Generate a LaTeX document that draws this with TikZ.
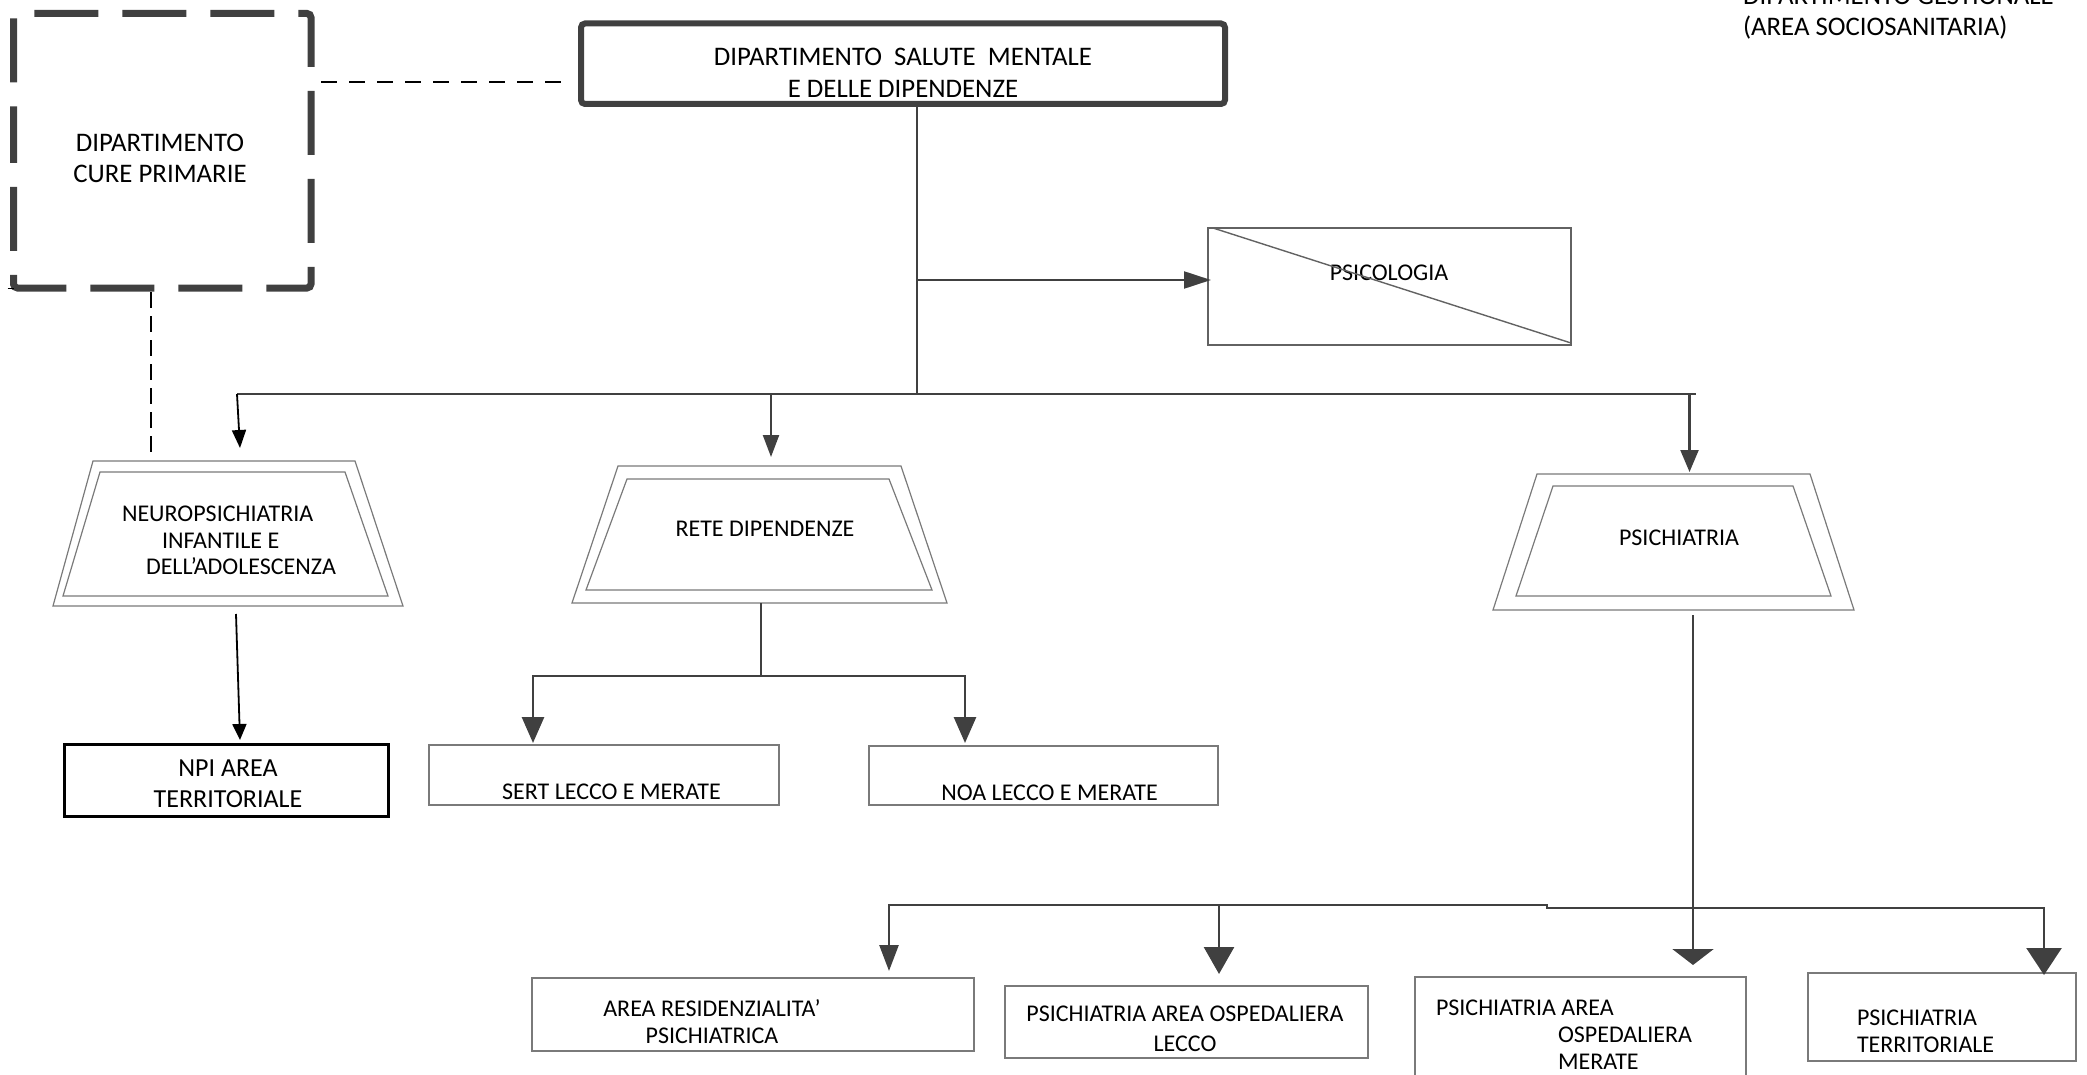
\documentclass[tikz,border=0pt]{standalone}
\usepackage{fontspec}
\setmainfont{Carlito}
\usetikzlibrary{arrows.meta,calc}
\definecolor{dk}{HTML}{404040}
\definecolor{gr}{HTML}{7A7A7A}
\begin{document}
\begin{tikzpicture}[x=0.5pt,y=-0.5pt,
  every node/.style={inner sep=0pt, outer sep=0pt, font=\fontsize{12}{13.5}\selectfont},
  hid/.style={rectangle, draw=none},
  lbox/.style={rectangle, draw=gr, line width=0.6pt},
  trapline/.style={draw=gr, line width=0.6pt, line join=miter},
  conn/.style={draw=dk, line width=1.1pt},
  thinconn/.style={draw=black, line width=0.9pt},
  dashconn/.style={draw=black, line width=1pt, dash pattern=on 8pt off 6pt},
  dashconnv/.style={draw=black, line width=1pt, dash pattern=on 8pt off 4pt},
  dcpline/.style={draw=dk, line width=3.5pt, dash pattern=on 32pt off 12pt, dash phase=11.875pt, rounded corners=2pt},
  tipP/.style={-{Triangle[width=8.5pt,length=13.5pt]}},
  tipA/.style={-{Triangle[width=7pt,length=9pt]}},
  tipA2/.style={-{Triangle[width=7pt,length=8pt]}},
  tipB/.style={-{Triangle[width=8pt,length=11pt]}},
  tipC/.style={-{Triangle[width=9pt,length=11pt]}},
  tipG/.style={-{Triangle[width=20.5pt,length=8pt]}}
]
\useasboundingbox (0,0) rectangle (2087,1075);

% ---------- nodes ----------
\node[hid, minimum width=148.75pt, minimum height=137.25pt] (dcp) at (162.25,150.75) {};
\node[align=center, font=\fontsize{13.4}{15.5}\selectfont] (dcpt) at (160,158.5) {DIPARTIMENTO\\CURE PRIMARIE};

\node[draw=dk, line width=3pt, rounded corners=2pt, minimum width=322pt, minimum height=40.25pt] (dsm) at (903,63.75) {};
\node[align=center, font=\fontsize{13.4}{16}\selectfont] (dsmt) at (903,73) {DIPARTIMENTO\ \ SALUTE\ \ MENTALE\\E DELLE DIPENDENZE};

\node[draw=gr!80!black, line width=0.7pt, minimum width=181.5pt, minimum height=58.5pt] (psi) at (1389.5,286.5) {};
\node (psit) at (1389,273) {PSICOLOGIA};

\node[hid, minimum width=175pt, minimum height=72.5pt] (npi) at (228,533.5) {};
\node[anchor=west, align=left, font=\fontsize{12}{13.25}\selectfont] (npit) at (122,540.5)
  {NEUROPSICHIATRIA\\\hspace*{20pt}INFANTILE E\\\hspace*{12pt}DELL’ADOLESCENZA};

\node[hid, minimum width=187.5pt, minimum height=68.5pt] (rete) at (759.5,534.5) {};
\node (retet) at (765,529) {RETE DIPENDENZE};

\node[hid, minimum width=180.5pt, minimum height=68pt] (psy) at (1673.5,542) {};
\node (psyt) at (1679,538) {PSICHIATRIA};

\node[draw=black, line width=1.5pt, minimum width=162pt, minimum height=36pt] (npiarea) at (226,780) {};
\node[align=center, font=\fontsize{13}{15.5}\selectfont] (npiareat) at (228,783.5) {NPI AREA\\TERRITORIALE};

\node[lbox, minimum width=175pt, minimum height=30pt] (sert) at (604,775) {};
\node (sertt) at (611.5,792) {SERT LECCO E MERATE};
\node[lbox, minimum width=174.5pt, minimum height=29.5pt] (noa) at (1043.5,775.5) {};
\node (noat) at (1049.5,793) {NOA LECCO E MERATE};

\node[lbox, minimum width=221pt, minimum height=36.5pt] (res) at (753,1014.5) {};
\node[align=center] (rest) at (712,1021.5) {AREA RESIDENZIALITA’\\PSICHIATRICA};
\node[lbox, minimum width=181.5pt, minimum height=36pt] (lec) at (1186.5,1022) {};
\node[align=center, font=\fontsize{12}{15}\selectfont] (lect) at (1185,1029) {PSICHIATRIA AREA OSPEDALIERA\\LECCO};
\node[lbox, minimum width=165.5pt, minimum height=61.5pt] (mer) at (1580.5,1038.5) {};
\node[anchor=west, align=left, font=\fontsize{12}{13.5}\selectfont] (mert) at (1436,1035)
  {PSICHIATRIA AREA\\\hspace*{61pt}OSPEDALIERA\\\hspace*{61pt}MERATE};
\node[lbox, minimum width=134pt, minimum height=44pt] (ter) at (1942,1017) {};
\node[anchor=west, align=left] (tert) at (1857,1031.5) {PSICHIATRIA\\TERRITORIALE};

\node[anchor=base west, font=\fontsize{13.4}{14.5}\selectfont] (gest1) at (1743,5) {DIPARTIMENTO GESTIONALE};
\node[anchor=base west, font=\fontsize{13.4}{14.5}\selectfont] (gest2) at (1743,36) {(AREA SOCIOSANITARIA)};

% ---------- shapes ----------
\draw[dcpline] (dcp.west) -- (dcp.north west) -- (dcp.north east) -- (dcp.south east) -- (dcp.south west) -- cycle;
\draw[black, line width=0.5pt] ($(dcp.south west)+(-6,0)$) -- (dcp.south west);

\draw[gr!80!black, line width=0.7pt] ($(psi.north west)+(5,0)$) -- ($(psi.south east)+(0,-2)$);

\draw[trapline] ($(npi.north west)+(40,0)$) -- ($(npi.north east)+(-48,0)$) -- (npi.south east) -- (npi.south west) -- cycle;
\draw[trapline] ($(npi.north west)+(47,11)$) -- ($(npi.north east)+(-58,11)$) -- ($(npi.south east)+(-15,-10)$) -- ($(npi.south west)+(10,-10)$) -- cycle;

\draw[trapline] ($(rete.north west)+(46,0)$) -- ($(rete.north east)+(-46,0)$) -- (rete.south east) -- (rete.south west) -- cycle;
\draw[trapline] ($(rete.north west)+(55,13)$) -- ($(rete.north east)+(-58,13)$) -- ($(rete.south east)+(-15,-13)$) -- ($(rete.south west)+(14,-13)$) -- cycle;

\draw[trapline] ($(psy.north west)+(44,0)$) -- ($(psy.north east)+(-44,0)$) -- (psy.south east) -- (psy.south west) -- cycle;
\draw[trapline] ($(psy.north west)+(60,12)$) -- ($(psy.north east)+(-61,12)$) -- ($(psy.south east)+(-23,-14)$) -- ($(psy.south west)+(23,-14)$) -- cycle;

% ---------- connectors ----------
\draw[dashconn] ($(dcp.north east)+(10,68.5)$) -- ($(dsm.north west)+(-13,58.5)$);
\coordinate (dcpb) at ($(dcp.south west)+(137.5,4)$);
\draw[dashconnv] (dcpb) -- ($(dcpb |- npi.north)+(0,-3)$);

\coordinate (trunk) at ($(dsm.south)+(14,3)$);
\coordinate (busL) at ($(npi.north)+(9,-67)$);
\coordinate (busR) at ($(psy.north)+(22.5,-80)$);
\draw[conn] (busL) -- (busR);
\draw[conn] (trunk) -- (trunk |- busL);
\coordinate (psiIn) at ($(psi.west)+(3,-6.5)$);
\draw[conn, tipP] (trunk |- psiIn) -- (psiIn);

\draw[thinconn, tipA] (busL) -- ($(npi.north)+(12,-13)$);
\coordinate (reteIn) at ($(rete.north)+(11.5,-9)$);
\draw[conn, tipB] (reteIn |- busL) -- (reteIn);
\coordinate (psyIn) at ($(psy.north)+(16,-2)$);
\draw[conn, tipC] (psyIn |- busL) -- (psyIn);

\draw[thinconn, tipA2] ($(npi.south)+(8,8)$) -- ($(npiarea.north)+(14,-4)$);

\coordinate (reteOut) at ($(rete.south)+(1.5,0)$);
\coordinate (rbus) at ($(reteOut)+(0,73)$);
\coordinate (sertIn) at ($(sert.north)+(-71,-2)$);
\coordinate (noaIn) at ($(noa.north)+(-78.5,-3)$);
\draw[conn] (reteOut) -- (rbus);
\draw[conn, line width=1.4pt, {Triangle[width=11pt,length=13pt]}-{Triangle[width=11pt,length=13pt]}]
  (sertIn) -- (sertIn |- rbus) -- (noaIn |- rbus) -- (noaIn);

\coordinate (psyOut) at ($(psy.south)+(19.5,5)$);
\coordinate (merIn) at ($(mer.north)+(112.5,-12)$);
\draw[conn, line width=1.3pt, tipG] (psyOut) -- (merIn);

\coordinate (lb) at ($(psyOut)+(0,290)$);
\coordinate (resIn) at ($(res.north)+(136,-7)$);
\coordinate (lecIn) at ($(lec.north)+(32.5,-12)$);
\coordinate (terIn) at ($(ter.north)+(102,2)$);
\coordinate (jog1) at ($(lb)+(-146,0)$);
\coordinate (jog2) at ($(lb)+(-146,3)$);
\draw[conn, line width=1.3pt, {Triangle[width=9.5pt,length=13pt]}-{Triangle[width=17.5pt,length=13.5pt]}]
  (resIn) -- (resIn |- lb) -- (jog1) -- (jog2) -- (terIn |- jog2) -- (terIn);
\draw[conn, line width=1.3pt, -{Triangle[width=15pt,length=13.5pt]}] (lecIn |- lb) -- (lecIn);
\end{tikzpicture}
\end{document}
